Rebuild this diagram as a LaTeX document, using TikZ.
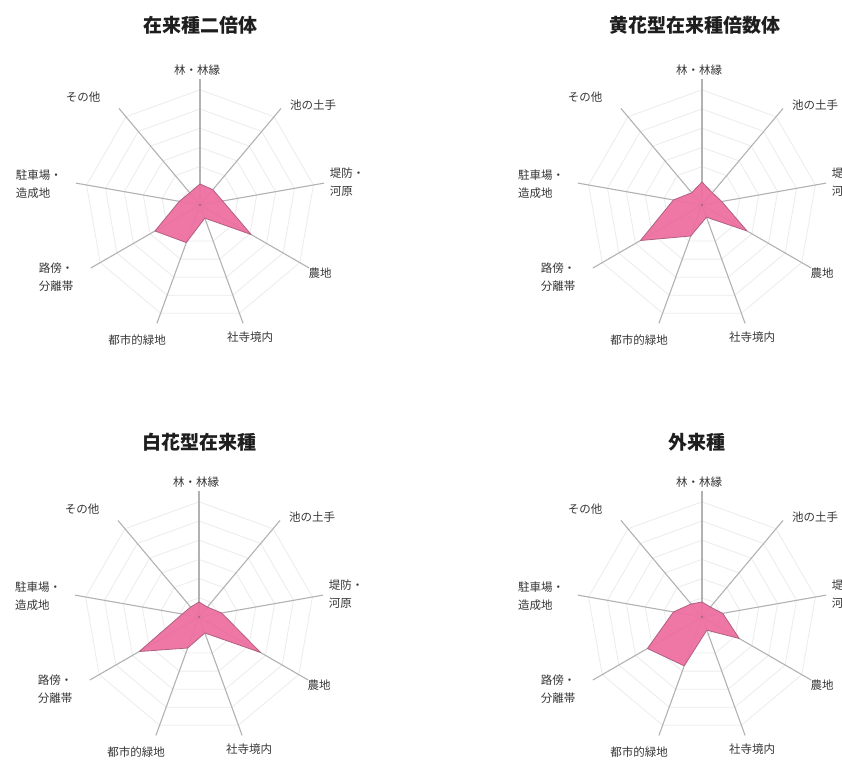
\documentclass[tikz,border=0pt]{standalone}
\usepackage{fontspec}
\newfontfamily\cjk{Noto Sans CJK JP}
\definecolor{axisgray}{RGB}{178,178,178}
\definecolor{ringgray}{RGB}{236,236,236}
\definecolor{pinkfill}{RGB}{238,112,162}
\definecolor{pinkedge}{RGB}{176,96,128}
\definecolor{lbltext}{RGB}{55,55,55}
\definecolor{ttltext}{RGB}{30,30,30}
\tikzset{
  axisline/.style={draw=axisgray,line width=1.1pt},
  ring/.style={draw=ringgray,line width=0.8pt},
  datapoly/.style={fill=pinkfill,draw=pinkedge,line width=0.8pt,line join=round},
  lbl/.style={font=\cjk\fontsize{11.5}{18}\selectfont,text=lbltext,inner sep=0pt},
  lbll/.style={lbl,align=left},
  ttl/.style={font=\cjk\bfseries\fontsize{19}{22}\selectfont,text=ttltext,inner sep=0pt}
}
% #1 prefix, #2 cx, #3 cy, #4 values, #5 title, #6 title dx, #7 title dy
\newcommand{\radarchart}[7]{%
\begin{scope}[shift={(#2,#3)}]
  \coordinate (#1c) at (0,0);
  \foreach \k in {1,...,6}{
    \draw[ring] (90:\k*19.2) \foreach \j in {1,...,8}{ -- ({90-\j*40}:\k*19.2)} -- cycle;
  }
  \foreach \j in {0,...,8}{
    \coordinate (#1e\j) at ({90-\j*40}:126);
    \draw[axisline] (#1c) -- (#1e\j);
  }
  \foreach \v [count=\j from 0] in {#4}{
    \coordinate (#1p\j) at ({90-\j*40}:\v);
  }
  \draw[datapoly,fill opacity=0.95] (#1p0) -- (#1p1) -- (#1p2) -- (#1p3) -- (#1p4) -- (#1p5) -- (#1p6) -- (#1p7) -- (#1p8) -- cycle;
  \fill[black!60] (#1c) circle (0.9);
  \node[lbl] (#1l0) at (-3,135) {林・林縁};
  \node[lbl] (#1l1) at (113,100) {池の土手};
  \node[lbll] (#1l2) at (147,23) {堤防・\\河原};
  \node[lbl] (#1l3) at (120,-68) {農地};
  \node[lbl] (#1l4) at (50,-132) {社寺境内};
  \node[lbl] (#1l5) at (-63,-135) {都市的緑地};
  \node[lbll] (#1l6) at (-144,-72) {路傍・\\分離帯};
  \node[lbll] (#1l7) at (-161,21) {駐車場・\\造成地};
  \node[lbl] (#1l8) at (-117,108) {その他};
  \node[ttl] (#1t) at (#6,#7) {#5};
\end{scope}}
\begin{document}
\begin{tikzpicture}[x=1pt,y=1pt]
\useasboundingbox (0,0) rectangle (842,760);
\clip (0,0) rectangle (842,760);
\fill[white] (0,0) rectangle (842,760);
\radarchart{a}{200}{555}{21,20,23,59,14,40,52,21,16}{在来種二倍体}{0}{180}
\radarchart{b}{702}{555}{23,16,20,52,13,33,71,29,16}{黄花型在来種倍数体}{-7}{180}
\radarchart{c}{199}{143}{15,13,23,71,17,33,69,17,13}{白花型在来種}{0}{175}
\radarchart{d}{702}{143}{15,13,21,43,14,52,63,29,17}{外来種}{-5}{175}
\end{tikzpicture}
\end{document}
